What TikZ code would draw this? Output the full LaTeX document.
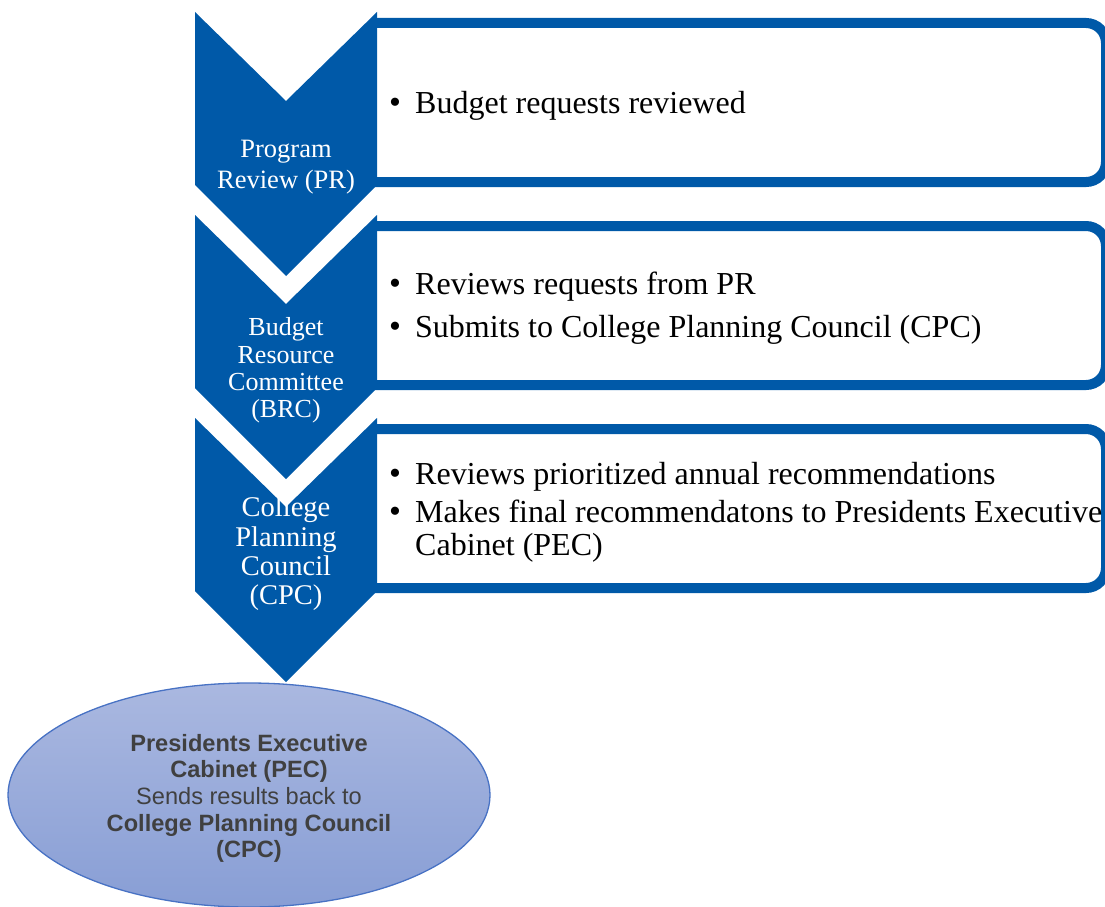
\documentclass[tikz,border=0pt]{standalone}
\usepackage{fontspec}
\setmainfont{Liberation Serif}
\newfontfamily\arialf{Liberation Sans}
\usetikzlibrary{shapes.geometric}
\definecolor{chevblue}{RGB}{0,89,168}
\definecolor{elltop}{RGB}{170,184,224}
\definecolor{ellbot}{RGB}{136,158,213}
\definecolor{ellline}{RGB}{72,114,196}
\definecolor{elltext}{RGB}{64,64,64}
\tikzset{
  chev/.style={fill=chevblue},
  stepbox/.style={fill=white, draw=chevblue, line width=10pt, rounded corners=20pt},
  boxtext/.style={anchor=base west, inner sep=0pt, font=\fontsize{32}{36}\selectfont},
  bul/.style={anchor=base, inner sep=0pt, font=\fontsize{34}{36}\selectfont},
  prtext/.style={anchor=base, inner sep=0pt, text=white, font=\fontsize{26.5}{31}\selectfont},
  brctext/.style={anchor=base, inner sep=0pt, text=white, font=\fontsize{26}{28}\selectfont},
  cpctext/.style={anchor=base, inner sep=0pt, text=white, font=\fontsize{28.5}{30}\selectfont},
  elltxt/.style={anchor=base, inner sep=0pt, text=elltext, font=\arialf\fontsize{23.6}{26}\selectfont},
}
\begin{document}
\begin{tikzpicture}[x=1pt,y=-1pt]
\useasboundingbox (0,0) rectangle (1105,907);

% ellipse
\node[ellipse, minimum width=482pt, minimum height=224pt, inner sep=0pt,
      top color=elltop, bottom color=ellbot, draw=ellline, line width=1.3pt] (pec) at (249,795) {};

% boxes
\draw[stepbox] (374,23) -- (1106,23) -- (1106,182) -- (374,182);
\draw[stepbox] (374,226) -- (1106,226) -- (1106,385) -- (374,385);
\draw[stepbox] (374,429) -- (1106,429) -- (1106,588) -- (374,588);

% chevrons
\fill[chev] (195,12) -- (286,101) -- (377,12) -- (377,185) -- (286,276) -- (195,185) -- cycle;
\fill[chev] (195,215) -- (286,304) -- (377,215) -- (377,388) -- (286,479) -- (195,388) -- cycle;
\fill[chev] (195,418) -- (286,507) -- (377,418) -- (377,591) -- (286,682) -- (195,591) -- cycle;

% chevron texts
\node[prtext] (pr1) at (286,157) {Program};
\node[prtext] (pr2) at (286,188) {Review (PR)};

\node[brctext] (brc1) at (286,335) {Budget};
\node[brctext] (brc2) at (286,363) {Resource};
\node[brctext] (brc3) at (286,390) {Committee};
\node[brctext] (brc4) at (286,417) {(BRC)};

\node[cpctext] (cpc1) at (286,516) {College};
\node[cpctext] (cpc2) at (286,546) {Planning};
\node[cpctext] (cpc3) at (286,575) {Council};
\node[cpctext] (cpc4) at (286,604) {(CPC)};

% box texts
\node[bul] (b1) at (395,113) {•};
\node[boxtext] (t1) at (415,113) {Budget requests reviewed};

\node[bul] (b2) at (395,294) {•};
\node[boxtext] (t2) at (415,294) {Reviews requests from PR};
\node[bul] (b3) at (395,337) {•};
\node[boxtext] (t3) at (415,337) {Submits to College Planning Council (CPC)};

\node[bul] (b4) at (395,484) {•};
\node[boxtext] (t4) at (415,484) {Reviews prioritized annual recommendations};
\node[bul] (b5) at (395,522) {•};
\node[boxtext] (t5) at (415,522) {Makes final recommendatons to Presidents Executive};
\node[boxtext] (t6) at (415,555) {Cabinet (PEC)};

% ellipse text
\node[elltxt] (e1) at (249,751) {\bfseries Presidents Executive};
\node[elltxt] (e2) at (249,777) {\bfseries Cabinet (PEC)};
\node[elltxt] (e3) at (249,804) {Sends results back to};
\node[elltxt] (e4) at (249,831) {\bfseries College Planning Council};
\node[elltxt] (e5) at (249,857) {\bfseries (CPC)};
\end{tikzpicture}
\end{document}
